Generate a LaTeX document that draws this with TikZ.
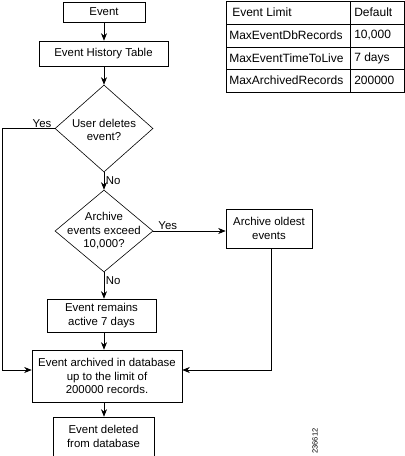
\documentclass[tikz,border=0pt]{standalone}
\usepackage{fontspec}
\setmainfont{Liberation Sans}
\usetikzlibrary{shapes.geometric,arrows.meta}
\begin{document}
\begin{tikzpicture}[x=1pt,y=-1pt,
  line width=0.6pt,
  box/.style={draw, rectangle, inner sep=0pt, align=center, font=\fontsize{11.4}{13.5}\selectfont},
  dia/.style={draw, diamond, inner sep=0pt},
  txt/.style={align=center, font=\fontsize{11.4}{13.5}\selectfont, inner sep=0pt},
  lbl/.style={font=\fontsize{11.4}{13.5}\selectfont, inner sep=1pt},
  arr/.style={-{Stealth[length=7.5pt,width=6pt]}},
  tcell/.style={anchor=west, font=\fontsize{12}{14}\selectfont, inner sep=0pt}
]
\useasboundingbox (0,0) rectangle (405,456);
% boxes
\node[box, minimum width=82pt, minimum height=20pt] (ev) at (104,12) {Event};
\node[box, minimum width=129pt, minimum height=25pt] (hist) at (103.5,53.5) {Event History Table};
\node[dia, minimum width=98pt, minimum height=87pt] (d1) at (104,128.5) {};
\node[txt] (d1t) at (104,130) {User deletes\\event?};
\node[dia, minimum width=98pt, minimum height=82pt] (d2) at (104,231) {};
\node[txt] (d2t) at (104,231) {Archive\\events exceed\\10,000?};
\node[box, minimum width=86pt, minimum height=39pt] (old) at (269,228.5) {Archive oldest\\events};
\node[box, minimum width=109pt, minimum height=33pt] (rem) at (101.5,315.5) {Event remains\\active 7 days};
\node[box, minimum width=150pt, minimum height=52pt] (arc) at (107,376) {Event archived in database\\up to the limit of\\200000 records.};
\node[box, minimum width=101pt, minimum height=39pt] (del) at (103.5,436.5) {Event deleted\\from database};
% connectors
\draw[arr] (ev.south) -- (ev.south |- hist.north);
\draw[arr] (hist.south -| d1.north) -- (d1.north);
\draw[arr] (d1.south) -- (d2.north) node[lbl, midway, right, xshift=0.5pt] (no1) {No};
\draw[arr] (d2.east) -- (old.west |- d2.east) node[lbl, pos=0.2, above] (yes2) {Yes};
\draw[arr] (d2.south) -- (d2.south |- rem.north) node[lbl, pos=0.3, right, xshift=0.5pt] (no2) {No};
\coordinate (lc) at (2,128.5);
\draw[arr] (d1.west) -- (lc) -- (lc |- 0,370) -- (arc.west |- 0,370);
\node[lbl, anchor=south] (yes1) at (42,129) {Yes};
\draw[arr] (old.south -| 271,0) -- (271,370) -- (arc.east |- 0,370);
\draw[arr] (rem.south -| 104,0) -- (arc.north -| 104,0);
\draw[arr] (arc.south -| 104,0) -- (del.north -| 104,0);
% table
\draw (226,1) rectangle (404,92);
\draw (226,24) -- (404,24);
\draw (226,47) -- (404,47);
\draw (226,69.5) -- (404,69.5);
\draw (350,1) -- (350,92);
\node[tcell] (h1) at (232,12.5) {Event Limit};
\node[tcell] (h2) at (354,12.5) {Default};
\node[tcell] (r1a) at (229,35.5) {MaxEventDbRecords};
\node[tcell] (r1b) at (354,35.5) {10,000};
\node[tcell] (r2a) at (229,58) {MaxEventTimeToLive};
\node[tcell] (r2b) at (354,58) {7 days};
\node[tcell] (r3a) at (229,80.5) {MaxArchivedRecords};
\node[tcell] (r3b) at (354,80.5) {200000};
\node[font=\fontsize{7.5}{8}\selectfont, rotate=90, inner sep=0pt] (code) at (315,441) {236612};
\end{tikzpicture}
\end{document}
